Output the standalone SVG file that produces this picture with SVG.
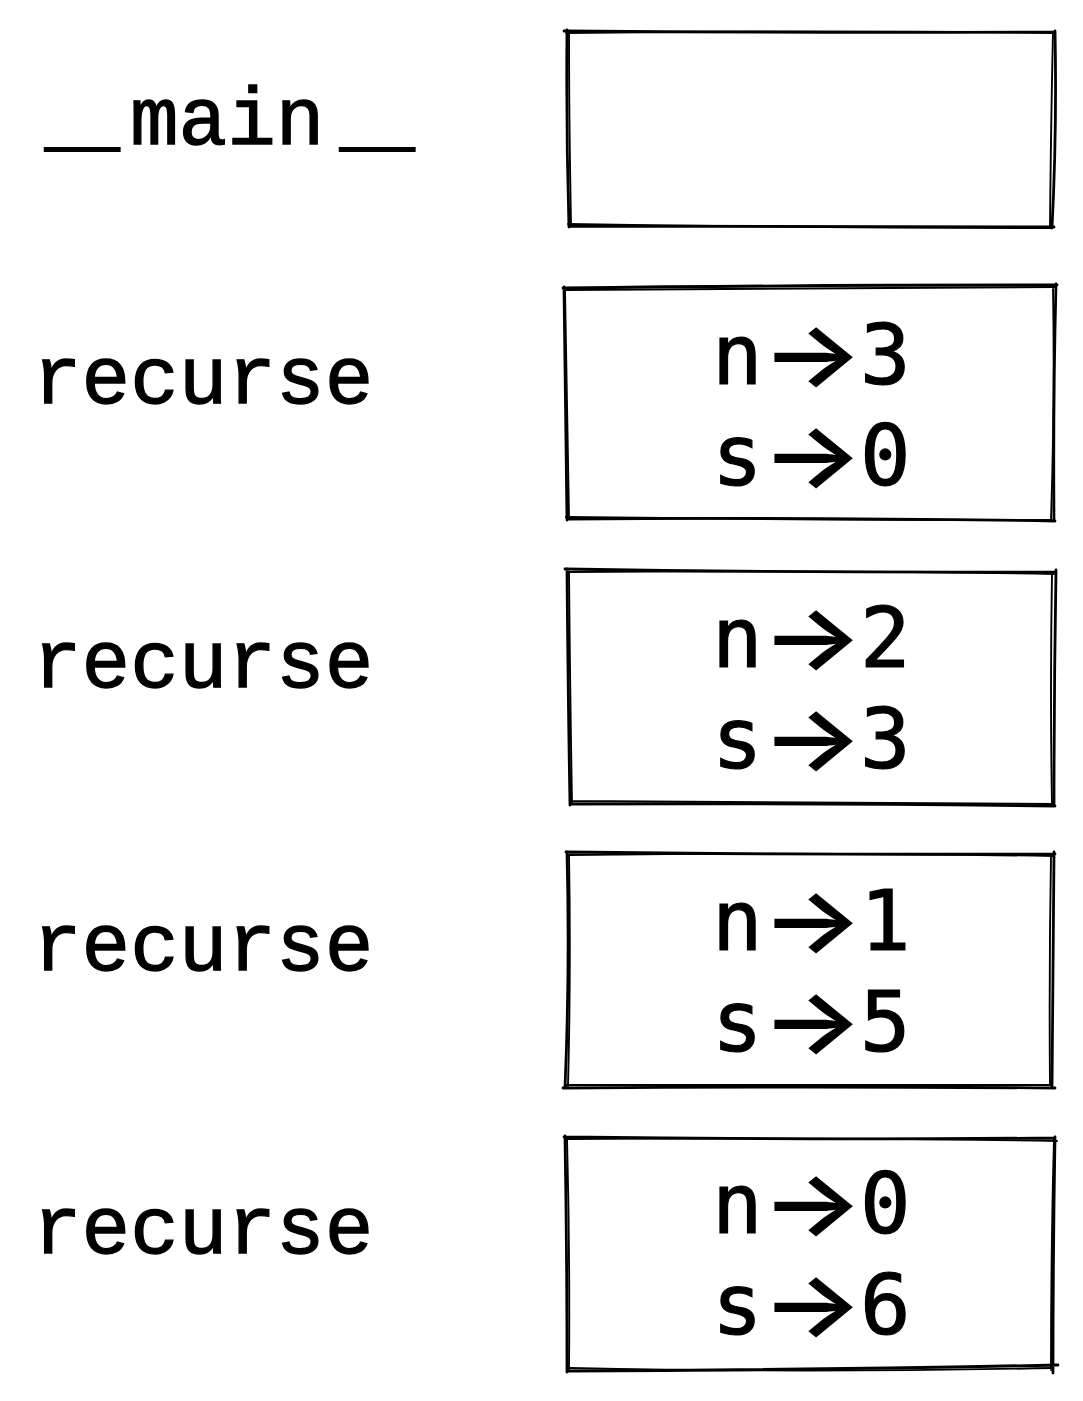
<svg xmlns="http://www.w3.org/2000/svg" width="1083" height="1401" viewBox="0 0 1083 1401">
<style>
.lbl{font-family:"Liberation Mono","DejaVu Sans Mono",monospace;font-size:81px;fill:#000;stroke:#000;stroke-width:1.3}
.us{font-size:62px;stroke-width:2.2}
.val{font-family:"DejaVu Sans Mono","Liberation Mono",monospace;font-size:84px;fill:#000;stroke:#000;stroke-width:1.2}
.ar{font-family:Inter,"DejaVu Sans",sans-serif;font-size:88px;font-weight:600;fill:#000}
.b{fill:none;stroke:#000;stroke-width:2.8;stroke-linecap:round;stroke-linejoin:round}
.b2{fill:none;stroke:#000;stroke-width:1.9;stroke-linecap:round;stroke-linejoin:round}
</style>
<rect width="1083" height="1401" fill="#fff"/>
<g id="frame-main">
<text class="lbl" y="144"><tspan class="us" x="45">__</tspan><tspan x="130">main</tspan><tspan class="us" x="340">__</tspan></text>
<path class="b" d="M564 31 Q800 33 1055 32 M1055 31 Q1057 130 1052 228 M1054 227 Q810 226 570 226 M569 227 Q566 130 567 30"/>
<path class="b2" d="M566 33 Q820 30 1053 33 M1053 33 Q1051 120 1050 226 M1052 228 Q800 228 568 224 M571 224 Q569 120 569 33"/>
</g>
<g id="frame-recurse-3">
<text class="lbl" x="33" y="403">recurse</text>
<path class="b" d="M563 288 Q800 285 1057 285 M1056 284 Q1053 400 1054 521 M1055 521 Q800 517 567 519 M567 520 Q565 400 564 287"/>
<path class="b2" d="M566 290 Q820 289 1055 287 M1053 287 Q1055 400 1051 520 M1052 520 Q800 520 566 517 M569 518 Q567 400 565 291"/>
<text class="val" x="712" y="384">n</text><text class="ar" transform="translate(761 385) scale(1.22 1)">→</text><text class="val" x="860" y="384">3</text>
<text class="val" x="712" y="485">s</text><text class="ar" transform="translate(761 486) scale(1.22 1)">→</text><text class="val" x="860" y="485">0</text>
</g>
<g id="frame-recurse-2">
<text class="lbl" x="33" y="687">recurse</text>
<path class="b" d="M565 569 Q800 573 1056 572 M1056 570 Q1054 690 1054 806 M1055 806 Q800 803 570 804 M570 805 Q568 690 567 569"/>
<path class="b2" d="M568 572 Q820 570 1054 574 M1052 573 Q1050 690 1052 804 M1053 804 Q800 802 572 801 M572 803 Q570 690 569 572"/>
<text class="val" x="712" y="667">n</text><text class="ar" transform="translate(761 668) scale(1.22 1)">→</text><text class="val" x="860" y="667">2</text>
<text class="val" x="712" y="768">s</text><text class="ar" transform="translate(761 769) scale(1.22 1)">→</text><text class="val" x="860" y="768">3</text>
</g>
<g id="frame-recurse-1">
<text class="lbl" x="33" y="970">recurse</text>
<path class="b" d="M566 852 Q800 855 1055 854 M1054 852 Q1053 970 1052 1088 M1055 1088 Q800 1086 563 1088 M565 1088 Q570 970 567 852"/>
<path class="b2" d="M569 855 Q820 852 1053 856 M1051 856 Q1049 970 1050 1085 M1052 1085 Q800 1084 566 1085 M568 1086 Q571 970 569 855"/>
<text class="val" x="712" y="950">n</text><text class="ar" transform="translate(761 951) scale(1.22 1)">→</text><text class="val" x="860" y="950">1</text>
<text class="val" x="712" y="1051">s</text><text class="ar" transform="translate(761 1052) scale(1.22 1)">→</text><text class="val" x="860" y="1051">5</text>
</g>
<g id="frame-recurse-0">
<text class="lbl" x="33" y="1253">recurse</text>
<path class="b" d="M564 1137 Q800 1140 1055 1138 M1055 1137 Q1053 1250 1053 1373 M1058 1365 Q800 1370 568 1371 M567 1372 Q567 1250 565 1136"/>
<path class="b2" d="M567 1139 Q820 1137 1057 1141 M1054 1140 Q1051 1250 1051 1370 M1053 1368 Q800 1373 570 1368 M569 1369 Q570 1250 567 1139"/>
<text class="val" x="712" y="1233">n</text><text class="ar" transform="translate(761 1234) scale(1.22 1)">→</text><text class="val" x="860" y="1233">0</text>
<text class="val" x="712" y="1334">s</text><text class="ar" transform="translate(761 1335) scale(1.22 1)">→</text><text class="val" x="860" y="1334">6</text>
</g>
<g id="connectors"></g>
</svg>
